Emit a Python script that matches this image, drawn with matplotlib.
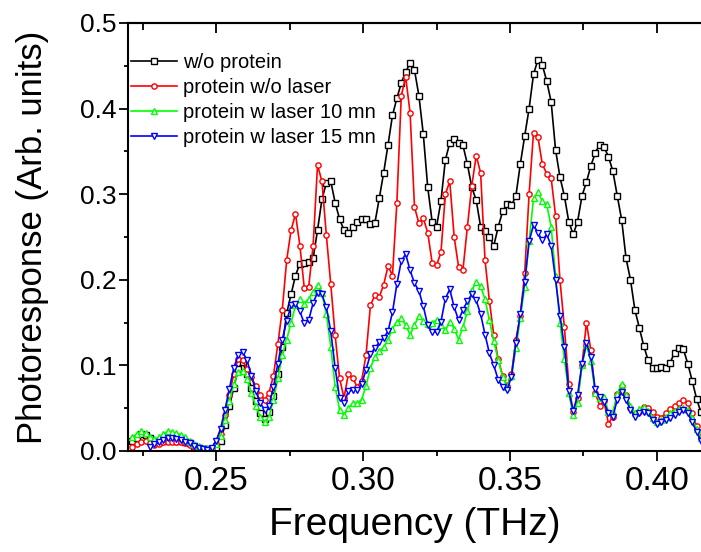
import numpy as np
import matplotlib
matplotlib.use("Agg")
import matplotlib.pyplot as plt
from matplotlib.ticker import MultipleLocator, FormatStrFormatter

# sampling grid of the spectra (THz)
freq_start, freq_step, n_points = 0.2215, 0.0015, 130
freq = np.round(freq_start + freq_step * np.arange(n_points), 4)

wo_protein = [
    0.012, 0.015, 0.020, 0.019, 0.015, 0.011, 0.010, 0.012, 0.013, 0.013,
    0.012, 0.012, 0.011, 0.009, 0.006, 0.004, 0.002, 0.002, 0.002, 0.004,
    0.012, 0.030, 0.052, 0.074, 0.096, 0.104, 0.090, 0.074, 0.058, 0.044,
    0.037, 0.045, 0.064, 0.090, 0.122, 0.161, 0.183, 0.205, 0.219, 0.220,
    0.221, 0.225, 0.258, 0.294, 0.313, 0.315, 0.290, 0.271, 0.258, 0.255,
    0.262, 0.267, 0.271, 0.271, 0.265, 0.266, 0.295, 0.325, 0.358, 0.392,
    0.412, 0.430, 0.443, 0.453, 0.445, 0.415, 0.370, 0.308, 0.268, 0.262,
    0.292, 0.340, 0.360, 0.364, 0.360, 0.357, 0.335, 0.308, 0.293, 0.262,
    0.257, 0.250, 0.240, 0.262, 0.280, 0.288, 0.287, 0.298, 0.335, 0.368,
    0.400, 0.440, 0.457, 0.451, 0.432, 0.408, 0.352, 0.320, 0.298, 0.268,
    0.253, 0.268, 0.298, 0.314, 0.333, 0.348, 0.358, 0.355, 0.344, 0.327,
    0.298, 0.270, 0.225, 0.200, 0.165, 0.144, 0.123, 0.106, 0.097, 0.097,
    0.098, 0.097, 0.103, 0.115, 0.120, 0.119, 0.102, 0.082, 0.061, 0.045,
]

wo_laser = [
    0.005, 0.008, 0.011, 0.012, 0.009, 0.007, 0.008, 0.010, 0.011, 0.011,
    0.011, 0.010, 0.009, 0.007, 0.005, 0.003, 0.002, 0.002, 0.003, 0.008,
    0.020, 0.042, 0.066, 0.090, 0.108, 0.106, 0.096, 0.086, 0.076, 0.066,
    0.060, 0.068, 0.088, 0.125, 0.165, 0.223, 0.258, 0.277, 0.240, 0.190,
    0.192, 0.240, 0.334, 0.315, 0.252, 0.195, 0.135, 0.085, 0.062, 0.090,
    0.085, 0.075, 0.082, 0.112, 0.170, 0.182, 0.180, 0.194, 0.216, 0.205,
    0.290, 0.415, 0.437, 0.395, 0.285, 0.266, 0.272, 0.255, 0.220, 0.217,
    0.232, 0.300, 0.315, 0.250, 0.215, 0.212, 0.262, 0.310, 0.345, 0.325,
    0.223, 0.175, 0.135, 0.107, 0.088, 0.076, 0.090, 0.130, 0.158, 0.208,
    0.300, 0.372, 0.367, 0.335, 0.324, 0.319, 0.275, 0.200, 0.145, 0.078,
    0.045, 0.062, 0.100, 0.150, 0.118, 0.068, 0.053, 0.058, 0.032, 0.040,
    0.067, 0.076, 0.066, 0.050, 0.043, 0.046, 0.051, 0.050, 0.046, 0.040,
    0.039, 0.044, 0.049, 0.053, 0.056, 0.059, 0.056, 0.044, 0.029, 0.016,
]

laser_10mn = [
    0.016, 0.020, 0.023, 0.021, 0.016, 0.014, 0.016, 0.020, 0.023, 0.022,
    0.021, 0.019, 0.016, 0.012, 0.008, 0.006, 0.004, 0.003, 0.004, 0.008,
    0.018, 0.036, 0.058, 0.078, 0.092, 0.094, 0.084, 0.068, 0.052, 0.040,
    0.034, 0.040, 0.060, 0.085, 0.112, 0.130, 0.150, 0.170, 0.177, 0.172,
    0.178, 0.186, 0.194, 0.184, 0.160, 0.122, 0.075, 0.048, 0.042, 0.050,
    0.056, 0.056, 0.060, 0.076, 0.097, 0.110, 0.117, 0.121, 0.130, 0.143,
    0.151, 0.155, 0.147, 0.136, 0.147, 0.158, 0.152, 0.148, 0.150, 0.153,
    0.147, 0.141, 0.151, 0.143, 0.130, 0.145, 0.163, 0.188, 0.197, 0.193,
    0.177, 0.153, 0.128, 0.106, 0.087, 0.075, 0.088, 0.120, 0.155, 0.192,
    0.245, 0.295, 0.302, 0.292, 0.288, 0.262, 0.205, 0.150, 0.108, 0.068,
    0.042, 0.056, 0.100, 0.124, 0.105, 0.068, 0.062, 0.063, 0.046, 0.045,
    0.067, 0.078, 0.066, 0.052, 0.044, 0.049, 0.051, 0.047, 0.038, 0.034,
    0.036, 0.040, 0.044, 0.047, 0.049, 0.050, 0.048, 0.038, 0.026, 0.015,
]

laser_15mn = [
    np.nan, np.nan, np.nan, np.nan, 0.005, 0.008, 0.010, 0.013, 0.015, 0.015,
    0.014, 0.013, 0.011, 0.009, 0.006, 0.004, 0.002, 0.001, 0.004, 0.012,
    0.026, 0.048, 0.073, 0.097, 0.112, 0.116, 0.106, 0.088, 0.070, 0.056,
    0.048, 0.053, 0.075, 0.102, 0.130, 0.152, 0.170, 0.172, 0.163, 0.149,
    0.153, 0.173, 0.185, 0.183, 0.168, 0.140, 0.097, 0.062, 0.056, 0.070,
    0.071, 0.071, 0.078, 0.095, 0.113, 0.120, 0.127, 0.132, 0.140, 0.162,
    0.195, 0.222, 0.230, 0.211, 0.196, 0.187, 0.169, 0.147, 0.139, 0.139,
    0.151, 0.178, 0.189, 0.168, 0.153, 0.165, 0.175, 0.183, 0.176, 0.160,
    0.136, 0.114, 0.100, 0.083, 0.075, 0.071, 0.087, 0.126, 0.160, 0.198,
    0.245, 0.264, 0.255, 0.246, 0.253, 0.240, 0.200, 0.158, 0.122, 0.070,
    0.047, 0.065, 0.102, 0.126, 0.110, 0.072, 0.063, 0.057, 0.044, 0.040,
    0.060, 0.069, 0.060, 0.048, 0.040, 0.044, 0.046, 0.044, 0.036, 0.032,
    0.034, 0.036, 0.039, 0.042, 0.045, 0.048, 0.044, 0.034, 0.022, 0.012,
]

labels = ["w/o protein", "protein w/o laser", "protein w laser 10 mn", "protein w laser 15 mn"]
colors = ["#000000", "#ff0000", "#00ff00", "#0000ff"]
markers = ["s", "o", "^", "v"]

plt.rcParams["font.family"] = ["Liberation Sans", "DejaVu Sans"]

fig = plt.figure(figsize=(7.01, 5.52), dpi=100)
ax = fig.add_axes([128 / 701, 101 / 552, 573 / 701, 428 / 552])

for ys, lab, c, m in zip([wo_protein, wo_laser, laser_10mn, laser_15mn], labels, colors, markers):
    ax.plot(freq, ys, color=c, lw=1.2, marker=m, ms=3.8, mew=1.0,
            mfc="white", mec=c, label=lab)

ax.set_xlim(0.22, 0.415)
ax.set_ylim(0, 0.5)
ax.xaxis.set_major_locator(MultipleLocator(0.05))
ax.xaxis.set_minor_locator(MultipleLocator(0.025))
ax.yaxis.set_major_locator(MultipleLocator(0.1))
ax.yaxis.set_minor_locator(MultipleLocator(0.05))
ax.xaxis.set_major_formatter(FormatStrFormatter("%.2f"))
ax.yaxis.set_major_formatter(FormatStrFormatter("%.1f"))

for s in ax.spines.values():
    s.set_linewidth(1.5)
ax.spines["right"].set_visible(False)

ax.tick_params(axis="both", which="both", direction="out", width=1.3)
ax.tick_params(axis="x", which="major", length=7, pad=4, labelsize=24)
ax.tick_params(axis="x", which="minor", length=3.5)
ax.tick_params(axis="y", which="major", length=6.5, pad=2, labelsize=19)
ax.tick_params(axis="y", which="minor", length=3)

top = ax.secondary_xaxis("top")
top.xaxis.set_major_locator(MultipleLocator(0.05))
top.xaxis.set_minor_locator(MultipleLocator(0.025))
top.tick_params(axis="x", which="both", direction="in", width=1.3, labeltop=False)
top.tick_params(axis="x", which="major", length=7)
top.tick_params(axis="x", which="minor", length=5)
top.spines["top"].set_linewidth(1.5)

ax.set_xlabel("Frequency (THz)", fontsize=28, labelpad=7)
ax.set_ylabel("Photoresponse (Arb. units)", fontsize=25, labelpad=22)

ax.legend(loc="upper left", bbox_to_anchor=(0.005, 0.93), frameon=False,
          fontsize=14.5, handlelength=2.3, handletextpad=0.3, labelspacing=0.3,
          borderpad=0, borderaxespad=0, numpoints=1)

fig.savefig("out.png", dpi=100)
